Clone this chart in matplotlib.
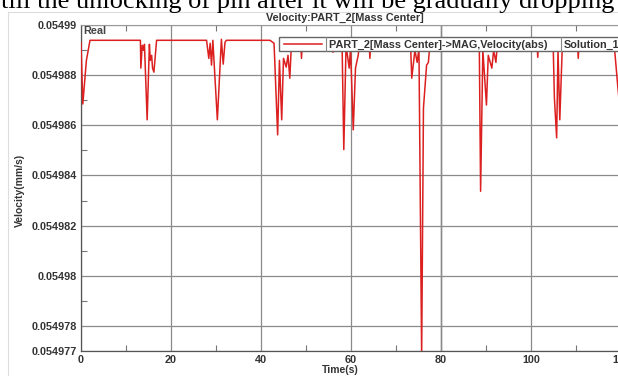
import matplotlib
matplotlib.use("Agg")
import matplotlib.pyplot as plt
from matplotlib.lines import Line2D
from matplotlib.patches import Rectangle

# ---- data ----
time_s = [0, 0.4, 1.2, 2.0,
          13.2, 13.3, 13.6, 13.9, 14.1, 14.7, 15.2, 15.4, 15.7, 15.9, 16.2, 16.8,
          27.9, 28.4, 28.7, 29.0, 29.3, 30.3, 31.2, 31.6, 32.0, 32.3,
          42.0, 42.9, 43.7, 44.1, 44.6, 45.0, 45.6, 46.0, 46.4, 46.8,
          48.8, 49.0, 49.2, 55.8, 56.0, 56.2,
          58.0, 58.4, 58.9, 59.6, 59.9, 60.5, 61.0, 61.6, 62.0,
          64.0, 64.2, 64.4,
          73.2, 73.5, 74.2, 74.7, 75.1, 75.7, 76.1, 76.8, 77.2, 77.6,
          88.5, 88.8, 89.3, 90.1, 90.5, 91.3, 91.7, 92.2, 92.6,
          101.3, 101.5, 101.7,
          104.9, 105.2, 105.7, 106.0, 106.4, 107.0,
          110.3, 110.5, 110.7,
          118.4, 119.3, 120.0, 121.0, 130.0]
velocity = [0.05498931, 0.05498685, 0.05498859, 0.05498939,
            0.05498939, 0.05498828, 0.05498919, 0.05498899, 0.05498923, 0.05498622,
            0.05498923, 0.05498859, 0.05498879, 0.05498828, 0.05498812, 0.05498939,
            0.05498939, 0.05498867, 0.05498927, 0.05498840, 0.05498939, 0.05498622,
            0.05498943, 0.05498844, 0.05498931, 0.05498939,
            0.05498939, 0.05498927, 0.05498562, 0.05498859, 0.05498622, 0.05498867,
            0.05498832, 0.05498879, 0.05498788, 0.05498939,
            0.05498939, 0.05498867, 0.05498939, 0.05498939, 0.05498891, 0.05498939,
            0.05498939, 0.05498503, 0.05498919, 0.05498828, 0.05498907, 0.05498582,
            0.05498828, 0.05498879, 0.05498939,
            0.05498939, 0.05498867, 0.05498939,
            0.05498939, 0.05498788, 0.05498899, 0.05498851, 0.05498907, 0.0549768,
            0.05498669, 0.05498840, 0.05498851, 0.05498939,
            0.05498939, 0.05498337, 0.05498899, 0.05498681, 0.05498879, 0.05498828,
            0.05498899, 0.05498851, 0.05498939,
            0.05498939, 0.05498871, 0.05498939,
            0.05498939, 0.05498709, 0.05498550, 0.05498899, 0.05498622, 0.05498939,
            0.05498939, 0.05498867, 0.05498939,
            0.05498939, 0.05498752, 0.05498622, 0.05498939, 0.05498939]

x_ticks = [0, 20, 40, 60, 80, 100, 120]
x_minor = [10, 30, 50, 70, 90, 110, 130]
y_ticks = [0.05499, 0.054988, 0.054986, 0.054984, 0.054982, 0.05498, 0.054978, 0.054977]
y_tick_labels = ["0.05499", "0.054988", "0.054986", "0.054984", "0.054982",
                 "0.05498", "0.054978", "0.054977"]
y_minor = [0.054989, 0.054987, 0.054985, 0.054983, 0.054981, 0.054979]

title = "Velocity:PART_2[Mass Center]"
legend_label = "PART_2[Mass Center]->MAG,Velocity(abs)"
legend_extra = "Solution_1"
caption = "till the unlocking of pin after it will be gradually dropping"

# ---- figure ----
W, H = 618, 376
fig = plt.figure(figsize=(W / 100, H / 100), dpi=100)
fig.patch.set_facecolor("white")

def fx(px):
    return px / W

def fy(py):
    return 1 - py / H

# axes: left 81px, top 25px, bottom 351px, x scale 4.5 px per unit
xmax = 130
left, top, bottom = 81, 25, 351
right = left + xmax * 4.5
ax = fig.add_axes([fx(left), fy(bottom), fx(right - left), (bottom - top) / H])
ax.plot(time_s, velocity, color="#dc1f1f", lw=1.1, zorder=3)
ax.set_xlim(0, xmax)
ax.set_ylim(0.054977, 0.05499)

lab_font = dict(family="Liberation Sans", weight="bold", size=7.8, color="#333333")
ax.set_xticks(x_ticks)
ax.set_xticklabels([str(v) for v in x_ticks], **lab_font)
ax.set_xticks(x_minor, minor=True)
ax.set_yticks(y_ticks)
ax.set_yticklabels(y_tick_labels, **lab_font)
ax.set_yticks(y_minor, minor=True)
ax.tick_params(axis="both", which="major", direction="in", length=0, pad=3)
ax.tick_params(axis="x", which="minor", direction="in", length=4, top=True,
               color="#777777", width=0.8)
ax.tick_params(axis="y", which="minor", direction="in", length=4,
               color="#777777", width=0.8)
ax.grid(True, which="major", color="#8a8a8a", lw=0.9)
ax.axvline(80, color="#2a2a2a", lw=0.9, zorder=1)
for s in ["left", "bottom"]:
    ax.spines[s].set_color("#555555")
    ax.spines[s].set_linewidth(0.9)
ax.spines["top"].set_color("#999999")
ax.spines["top"].set_linewidth(0.8)
ax.spines["right"].set_visible(False)

ax.text(0.6, 0.054990 - 0.00000005, "Real", ha="left", va="top",
        family="Liberation Sans", weight="bold", size=7.8, color="#444444", zorder=5)

# legend box (manual)
lx0, ly0, lx1, ly1 = 279, 37, 640, 51
fig.patches.append(Rectangle((fx(lx0), fy(ly1)), fx(lx1 - lx0), (ly1 - ly0) / H,
                             transform=fig.transFigure, facecolor="white",
                             edgecolor="#666666", lw=1.0, zorder=10))
fig.lines.append(Line2D([fx(284), fx(322)], [fy(44), fy(44)], transform=fig.transFigure,
                        color="#dc1f1f", lw=1.1, zorder=11))
fig.lines.append(Line2D([fx(326), fx(326)], [fy(37), fy(51)], transform=fig.transFigure,
                        color="#888888", lw=0.8, zorder=11))
fig.lines.append(Line2D([fx(561), fx(561)], [fy(37), fy(51)], transform=fig.transFigure,
                        color="#888888", lw=0.8, zorder=11))
fig.text(fx(329), fy(44.5), legend_label, ha="left", va="center",
         family="Liberation Sans", weight="bold", size=7.8, color="#333333", zorder=12)
fig.text(fx(564), fy(44.5), legend_extra, ha="left", va="center",
         family="Liberation Sans", weight="bold", size=7.8, color="#333333", zorder=12)

# titles and labels
fig.text(fx(345), fy(18), title, ha="center", va="center",
         family="Liberation Sans", weight="bold", size=7.8, color="#333333")
fig.text(fx(340), fy(370), "Time(s)", ha="center", va="center",
         family="Liberation Sans", weight="bold", size=7.5, color="#333333")
fig.text(fx(20), fy(190), "Velocity(mm/s)", ha="center", va="center", rotation=90,
         family="Liberation Sans", weight="bold", size=7.5, color="#333333")

# frame of the embedded chart image
fig.lines.append(Line2D([fx(8), fx(8)], [fy(12), fy(376)], transform=fig.transFigure,
                        color="#dddddd", lw=0.8))
fig.lines.append(Line2D([fx(8), fx(618)], [fy(12), fy(12)], transform=fig.transFigure,
                        color="#dddddd", lw=0.8))

# cropped caption line from surrounding document
fig.text(fx(1), fy(8), caption, ha="left", va="baseline",
         family="Liberation Serif", size=19, color="black")

fig.savefig("out.png", dpi=100, facecolor="white")
